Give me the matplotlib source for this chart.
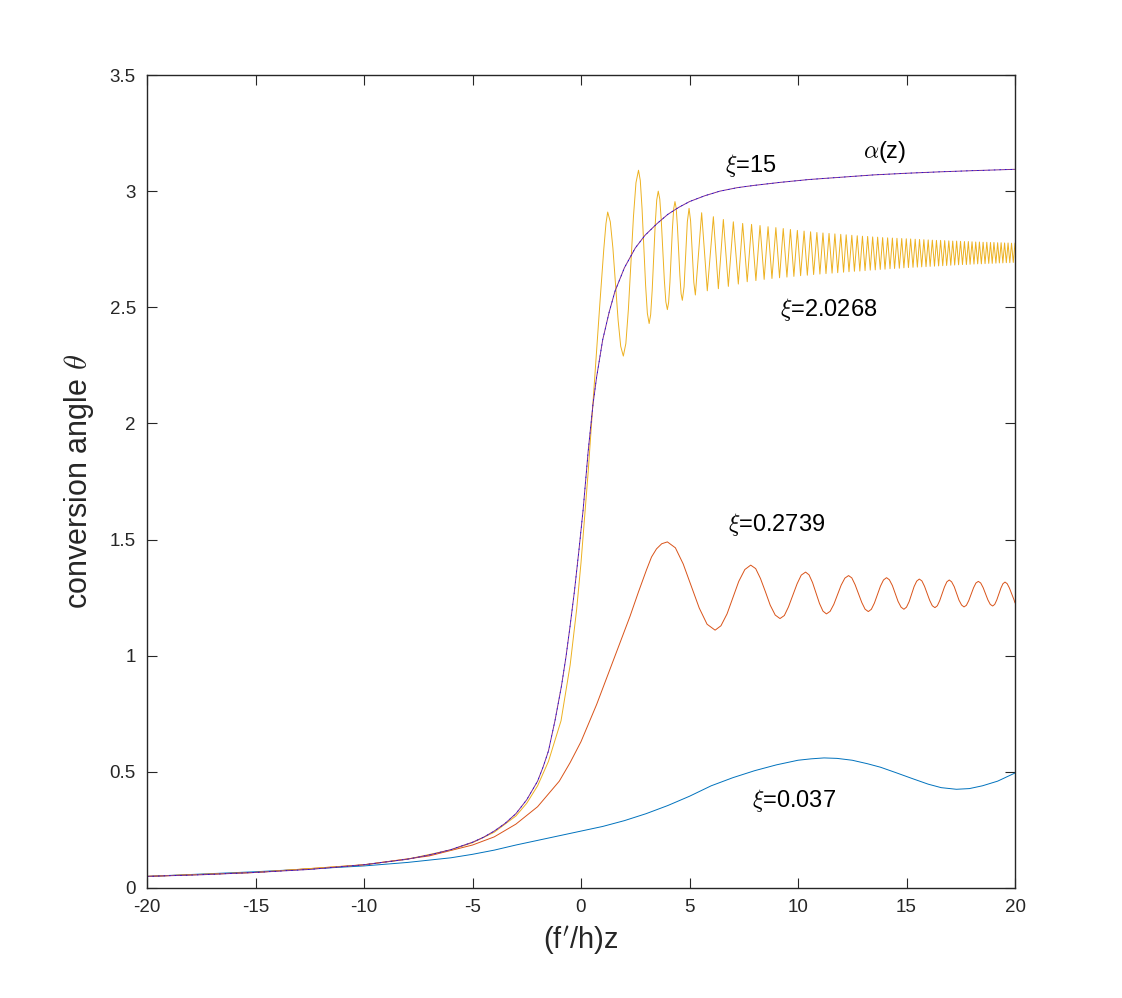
import numpy as np
import matplotlib.pyplot as plt

plt.rcParams['font.family'] = ['Liberation Sans', 'DejaVu Sans']
plt.rcParams['mathtext.fontset'] = 'cm'

# ---- data ----
# alpha(z) (the xi=15 curve sits right on top of it)
alpha_z = [-20, -17.5, -15, -12.5, -10, -8, -7, -6, -5, -4.5, -4, -3.5, -3,
           -2.5, -2, -1.75, -1.5, -1.2, -0.9, -0.7, -0.5, -0.3, -0.1, 0.1,
           0.33, 0.55, 0.72, 1.0, 1.3, 1.57, 2.0, 2.5, 2.95, 3.5, 4.0, 4.5,
           5.0, 5.7, 6.4, 7.2, 8.0, 9.2, 10.5, 12.0, 13.5, 15, 16.5, 18, 20]
alpha_t = [0.05, 0.057, 0.067, 0.08, 0.10, 0.124, 0.142, 0.165, 0.197, 0.218,
           0.245, 0.278, 0.32, 0.38, 0.46, 0.52, 0.59, 0.72, 0.87, 0.99, 1.13,
           1.28, 1.45, 1.63, 1.88, 2.08, 2.20, 2.36, 2.48, 2.57, 2.67, 2.755,
           2.81, 2.86, 2.90, 2.93, 2.955, 2.98, 3.0, 3.015, 3.025, 3.038,
           3.05, 3.06, 3.07, 3.077, 3.083, 3.088, 3.094]

# xi = 0.037
blue_z = [-20, -17.5, -15, -12.5, -10, -8, -6, -5, -4, -3, -2, -1, 0, 1, 2, 3,
          4, 5, 6, 7, 8, 9, 10, 10.6, 11.2, 11.8, 12.5, 13.2, 13.8, 14.5,
          15.3, 16, 16.6, 17.3, 17.9, 18.5, 19.2, 20]
blue_t = [0.05, 0.06, 0.07, 0.082, 0.095, 0.11, 0.13, 0.145, 0.163, 0.185,
          0.205, 0.225, 0.245, 0.265, 0.29, 0.32, 0.355, 0.395, 0.44, 0.475,
          0.505, 0.53, 0.55, 0.556, 0.56, 0.558, 0.55, 0.535, 0.52, 0.497,
          0.47, 0.447, 0.432, 0.425, 0.428, 0.44, 0.46, 0.495]

# xi = 0.2739
red_z = [-20, -15, -10, -7, -5, -4, -3, -2, -1, -0.5, 0, 0.72, 1.49, 2.26,
         2.65, 3.02, 3.25, 3.48, 3.72, 3.98,
         4.35, 4.71, 5.08, 5.45, 5.81, 6.18,
         6.45, 6.73, 7.0, 7.27, 7.55, 7.82,
         8.05, 8.27, 8.5, 8.72, 8.95, 9.17,
         9.37, 9.56, 9.76, 9.96, 10.15, 10.35,
         10.51, 10.67, 10.83, 10.99, 11.15, 11.31,
         11.48, 11.65, 11.82, 11.99, 12.16, 12.33,
         12.48, 12.63, 12.785, 12.94, 13.09, 13.24,
         13.38, 13.52, 13.66, 13.80, 13.94, 14.08,
         14.21, 14.35, 14.48, 14.61, 14.75, 14.88,
         15.0, 15.12, 15.235, 15.35, 15.47, 15.59,
         15.71, 15.83, 15.95, 16.07, 16.19, 16.31,
         16.42, 16.53, 16.64, 16.75, 16.86, 16.97,
         17.08, 17.2, 17.31, 17.42, 17.54, 17.65,
         17.76, 17.87, 17.98, 18.09, 18.2, 18.31,
         18.42, 18.53, 18.64, 18.75, 18.86, 18.97,
         19.065, 19.16, 19.255, 19.35, 19.445, 19.54,
         19.64, 19.74, 19.845, 19.95, 20]
red_t = [0.05, 0.067, 0.10, 0.138, 0.185, 0.22, 0.275, 0.35, 0.46, 0.54, 0.63,
         0.79, 0.98, 1.17, 1.275, 1.37, 1.425, 1.46, 1.482, 1.49,
         1.4645, 1.395, 1.30, 1.205, 1.1355, 1.11,
         1.129, 1.18, 1.25, 1.32, 1.371, 1.39,
         1.375, 1.3325, 1.275, 1.2175, 1.175, 1.16,
         1.173, 1.21, 1.26, 1.31, 1.347, 1.36,
         1.348, 1.315, 1.27, 1.225, 1.192, 1.18,
         1.191, 1.221, 1.2625, 1.304, 1.334, 1.345,
         1.335, 1.306, 1.2675, 1.229, 1.2005, 1.19,
         1.1998, 1.2265, 1.263, 1.2995, 1.326, 1.336,
         1.327, 1.302, 1.268, 1.234, 1.209, 1.20,
         1.209, 1.2325, 1.265, 1.2975, 1.321, 1.33,
         1.322, 1.299, 1.2685, 1.238, 1.215, 1.207,
         1.215, 1.237, 1.2665, 1.296, 1.318, 1.326,
         1.318, 1.297, 1.268, 1.239, 1.218, 1.21,
         1.217, 1.2375, 1.265, 1.2925, 1.313, 1.32,
         1.313, 1.2935, 1.267, 1.2405, 1.221, 1.214,
         1.221, 1.24, 1.2655, 1.291, 1.31, 1.317,
         1.310, 1.292, 1.267, 1.242, 1.228]

# xi = 2.0268 : rise and first big oscillations
yel_z = [-20, -15, -10, -8, -6, -5, -4, -3, -2.5, -2, -1.5, -0.92, -0.5, -0.2,
         0, 0.33, 0.65, 0.88, 1.05, 1.15, 1.23,
         1.35, 1.47, 1.59, 1.71, 1.83, 1.95,
         2.067, 2.183, 2.30, 2.417, 2.533, 2.65,
         2.732, 2.813, 2.895, 2.977, 3.058, 3.14,
         3.21, 3.28, 3.35, 3.42, 3.49, 3.56,
         3.63, 3.70, 3.77, 3.84, 3.91, 3.98,
         4.038, 4.097, 4.155, 4.213, 4.272, 4.33,
         4.387, 4.443, 4.5, 4.557, 4.613, 4.67,
         4.75, 4.825, 4.9, 4.98, 5.05, 5.125, 5.2, 5.27,
         5.56, 5.82, 6.10, 6.33, 6.56, 6.79, 7.02, 7.25, 7.45]
yel_t = [0.05, 0.067, 0.10, 0.124, 0.164, 0.195, 0.24, 0.31, 0.365, 0.44,
         0.545, 0.72, 0.96, 1.2, 1.40, 1.79, 2.22, 2.53, 2.75, 2.86, 2.91,
         2.868, 2.755, 2.60, 2.445, 2.332, 2.29,
         2.344, 2.49, 2.69, 2.89, 3.036, 3.09,
         3.046, 2.925, 2.76, 2.595, 2.474, 2.43,
         2.468, 2.5725, 2.715, 2.8575, 2.962, 3.00,
         2.966, 2.8725, 2.745, 2.6175, 2.524, 2.49,
         2.521, 2.606, 2.7225, 2.839, 2.924, 2.955,
         2.9265, 2.849, 2.7425, 2.636, 2.558, 2.53,
         2.588, 2.728, 2.868, 2.926, 2.872, 2.74, 2.607, 2.553,
         2.907, 2.571, 2.89, 2.58, 2.878, 2.59, 2.868, 2.60, 2.861]

# xi = 2.0268 : dense part, crests and troughs
yel_peak_z = [7.86, 8.25, 8.62, 8.98, 9.32, 9.65, 9.97, 10.28, 10.58, 10.87,
              11.15, 11.43, 11.70, 11.97, 12.22, 12.48, 12.73, 12.97, 13.21,
              13.44, 13.67, 13.90, 14.13, 14.35, 14.56, 14.78, 14.99, 15.19,
              15.40, 15.60, 15.80, 16.00, 16.19, 16.38, 16.57, 16.76, 16.95,
              17.13, 17.31, 17.49, 17.67, 17.85, 18.02, 18.19, 18.36, 18.53,
              18.70, 18.87, 19.03, 19.20, 19.36, 19.52, 19.68, 19.84, 20.00]
yel_peak_t = [2.857, 2.852, 2.847, 2.843, 2.839, 2.835, 2.831, 2.828, 2.825,
              2.822, 2.82, 2.818, 2.816, 2.814, 2.812, 2.81, 2.808, 2.806,
              2.805, 2.803, 2.802, 2.8, 2.799, 2.798, 2.797, 2.796, 2.795,
              2.794, 2.793, 2.792, 2.791, 2.79, 2.789, 2.788, 2.788, 2.787,
              2.786, 2.785, 2.785, 2.784, 2.783, 2.783, 2.782, 2.781, 2.781,
              2.78, 2.78, 2.779, 2.779, 2.778, 2.778, 2.777, 2.777, 2.776,
              2.776]
yel_trough_z = [7.66, 8.06, 8.44, 8.80, 9.15, 9.49, 9.81, 10.12, 10.43, 10.72,
                11.01, 11.29, 11.57, 11.83, 12.10, 12.35, 12.60, 12.85, 13.09,
                13.33, 13.56, 13.79, 14.01, 14.24, 14.45, 14.67, 14.88, 15.09,
                15.30, 15.50, 15.70, 15.90, 16.09, 16.29, 16.48, 16.67, 16.85,
                17.04, 17.22, 17.40, 17.58, 17.76, 17.93, 18.11, 18.28, 18.45,
                18.62, 18.79, 18.95, 19.12, 19.28, 19.44, 19.60, 19.76, 19.92]
yel_trough_t = [2.61, 2.615, 2.62, 2.624, 2.627, 2.63, 2.633, 2.636, 2.638,
                2.641, 2.643, 2.645, 2.647, 2.649, 2.651, 2.653, 2.655, 2.656,
                2.658, 2.66, 2.661, 2.663, 2.664, 2.666, 2.667, 2.668, 2.67,
                2.671, 2.672, 2.673, 2.674, 2.675, 2.676, 2.677, 2.678, 2.679,
                2.68, 2.681, 2.682, 2.683, 2.684, 2.684, 2.685, 2.686, 2.687,
                2.687, 2.688, 2.689, 2.689, 2.69, 2.691, 2.691, 2.692, 2.692,
                2.693]

x_ticks = [-20, -15, -10, -5, 0, 5, 10, 15, 20]
x_ticklabels = ['-20', '-15', '-10', '-5', '0', '5', '10', '15', '20']
y_ticks = [0, 0.5, 1, 1.5, 2, 2.5, 3, 3.5]
y_ticklabels = ['0', '0.5', '1', '1.5', '2', '2.5', '3', '3.5']

# (label, z, theta) for the curve annotations
labels = [(r'$\xi$=15', 7.8, 3.11),
          (r'$\alpha$(z)', 14.0, 3.17),
          (r'$\xi$=2.0268', 11.4, 2.49),
          (r'$\xi$=0.2739', 9.0, 1.565),
          (r'$\xi$=0.037', 9.8, 0.375)]

# dense part of the yellow curve: merge crests and troughs in z order
dz = np.array(yel_peak_z + yel_trough_z)
dt = np.array(yel_peak_t + yel_trough_t)
order = np.argsort(dz)
yz = np.concatenate([yel_z, dz[order]])
yt = np.concatenate([yel_t, dt[order]])

fig = plt.figure(figsize=(11.22, 9.98), dpi=100)
ax = fig.add_axes([147 / 1122, 1 - 888 / 998, 868 / 1122, 813 / 998])

lw = 0.7
ax.plot(blue_z, blue_t, color='#0072BD', lw=lw)
ax.plot(red_z, red_t, color='#D95319', lw=lw)
ax.plot(yz, yt, color='#EDB120', lw=lw)
ax.plot(alpha_z, alpha_t, color='#7E2F8E', lw=lw)
ax.plot(alpha_z, alpha_t, color='#0000FF', lw=0.5, ls=(0, (2, 6)))

for txt, z, t in labels:
    ax.text(z, t, txt, fontsize=17, ha='center', va='center', color='black')

ax.set_xlim(-20, 20)
ax.set_ylim(0, 3.5)
ax.set_xticks(x_ticks)
ax.set_xticklabels(x_ticklabels)
ax.set_yticks(y_ticks)
ax.set_yticklabels(y_ticklabels)

ax.tick_params(direction='in', length=7, width=0.8, top=True, right=True,
               labelsize=13.5, colors='#262626', pad=8)
for s in ax.spines.values():
    s.set_linewidth(1.0)
    s.set_color('#262626')

ax.set_xlabel(r"(f$^{\prime}$/h)z", fontsize=21, color='#262626', labelpad=6)
ax.set_ylabel(r"conversion angle $\theta$", fontsize=22, color='#262626',
              labelpad=10)

fig.savefig('out.png', dpi=100)
